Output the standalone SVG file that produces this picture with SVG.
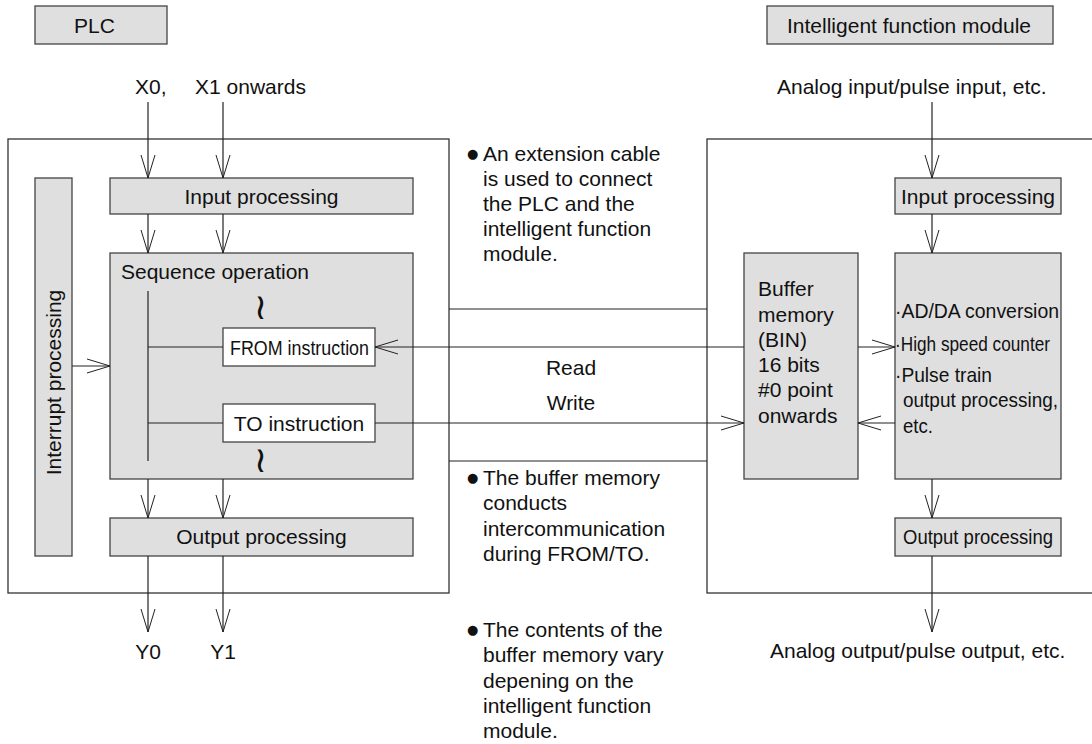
<svg xmlns="http://www.w3.org/2000/svg" width="1092" height="744" viewBox="0 0 1092 744">
<defs>
<style>
text{font-family:"Liberation Sans",Arial,sans-serif;font-size:21px;fill:#111}
.box{fill:#dfdfdf;stroke:#444;stroke-width:1.3}
.wbox{fill:#fff;stroke:#444;stroke-width:1.3}
.outer{fill:none;stroke:#333;stroke-width:1.3}
.ln{fill:none;stroke:#222;stroke-width:1.2}
.arr{fill:none;stroke:#222;stroke-width:1.2;marker-end:url(#ah)}
.mid{text-anchor:middle}
.bul{font-family:"DejaVu Sans",sans-serif;font-size:13px}
.tld{font-family:"DejaVu Sans",sans-serif;font-size:36px;text-anchor:middle}
</style>
<marker id="ah" viewBox="-24 -8 25 16" refX="0" refY="0" markerWidth="25" markerHeight="16" markerUnits="userSpaceOnUse" orient="auto">
<path d="M-23,-7 L0,0 L-23,7" fill="none" stroke="#222" stroke-width="1"/>
</marker>
</defs>
<rect width="1092" height="744" fill="#fff"/>

<g id="plc-title"><rect class="box" x="35" y="6" width="132" height="38"/><text x="74" y="33">PLC</text></g>
<g id="ifm-title"><rect class="box" x="767" y="6" width="286" height="38"/><text x="787" y="33">Intelligent function module</text></g>

<g id="plc-outer"><rect class="outer" x="8" y="139" width="441" height="454"/></g>
<g id="ifm-outer"><rect class="outer" x="707" y="139" width="400" height="454"/></g>

<g id="labels-io">
<text x="135" y="94">X0,</text>
<text x="195" y="94">X1 onwards</text>
<text x="777" y="94">Analog input/pulse input, etc.</text>
<text x="148" y="659" class="mid">Y0</text>
<text x="223" y="659" class="mid">Y1</text>
<text x="770" y="658">Analog output/pulse output, etc.</text>
</g>

<g id="interrupt"><rect class="box" x="35" y="178" width="37" height="378"/><text class="mid" transform="translate(61,382.5) rotate(-90)">Interrupt processing</text></g>
<g id="plc-input"><rect class="box" x="110" y="178" width="303" height="36"/><text x="261.5" y="204" class="mid">Input processing</text></g>
<g id="sequence"><rect class="box" x="110" y="253" width="303" height="226"/><text x="121" y="279">Sequence operation</text>
<text class="tld" x="260.5" y="319">≀</text>
<text class="tld" x="260.5" y="472">≀</text>
</g>
<g id="from-instr"><rect class="wbox" x="223" y="328" width="152" height="38"/><text x="230" y="355" textLength="139" lengthAdjust="spacingAndGlyphs">FROM instruction</text></g>
<g id="to-instr"><rect class="wbox" x="223" y="404" width="152" height="38"/><text x="299" y="430.5" class="mid">TO instruction</text></g>
<g id="plc-output"><rect class="box" x="110" y="518" width="303" height="38"/><text x="261.5" y="544" class="mid">Output processing</text></g>

<g id="ifm-input"><rect class="box" x="895" y="178" width="166" height="36"/><text x="978" y="204" class="mid">Input processing</text></g>
<g id="buffer"><rect class="box" x="744" y="253" width="114" height="226"/>
<text x="758" y="296">Buffer</text>
<text x="758" y="322">memory</text>
<text x="758" y="347">(BIN)</text>
<text x="758" y="372">16 bits</text>
<text x="758" y="397">#0 point</text>
<text x="758" y="423">onwards</text>
</g>
<g id="function"><rect class="box" x="895" y="253" width="166" height="226"/>
<text x="895" y="318" textLength="164" lengthAdjust="spacingAndGlyphs">·AD/DA conversion</text>
<text x="895" y="351" font-size="20" textLength="155" lengthAdjust="spacingAndGlyphs">·High speed counter</text>
<text x="895" y="382" textLength="97" lengthAdjust="spacingAndGlyphs">·Pulse train</text>
<text x="903" y="407" textLength="155" lengthAdjust="spacingAndGlyphs">output processing,</text>
<text x="903" y="433" textLength="30" lengthAdjust="spacingAndGlyphs">etc.</text>
</g>
<g id="ifm-output"><rect class="box" x="895" y="518" width="166" height="38"/><text x="903" y="544" textLength="150" lengthAdjust="spacingAndGlyphs">Output processing</text></g>

<g id="notes">
<text x="467" y="161"><tspan class="bul" dy="-3">●</tspan><tspan x="483" dy="3">An extension cable</tspan></text>
<text x="483" y="186">is used to connect</text>
<text x="483" y="211">the PLC and the</text>
<text x="483" y="236">intelligent function</text>
<text x="483" y="261">module.</text>
<text x="571" y="375" class="mid">Read</text>
<text x="571" y="410" class="mid">Write</text>
<text x="467" y="485"><tspan class="bul" dy="-3">●</tspan><tspan x="483" dy="3">The buffer memory</tspan></text>
<text x="483" y="510">conducts</text>
<text x="483" y="536">intercommunication</text>
<text x="483" y="561">during FROM/TO.</text>
<text x="467" y="637"><tspan class="bul" dy="-3">●</tspan><tspan x="483" dy="3">The contents of the</tspan></text>
<text x="483" y="662">buffer memory vary</text>
<text x="483" y="688">depening on the</text>
<text x="483" y="713">intelligent function</text>
<text x="483" y="738">module.</text>
</g>

<g id="connectors">
<line class="arr" x1="148" y1="102" x2="148" y2="178"/>
<line class="arr" x1="223" y1="102" x2="223" y2="178"/>
<line class="arr" x1="148" y1="214" x2="148" y2="253"/>
<line class="arr" x1="223" y1="214" x2="223" y2="253"/>
<line class="arr" x1="148" y1="479" x2="148" y2="518"/>
<line class="arr" x1="223" y1="479" x2="223" y2="518"/>
<line class="arr" x1="148" y1="556" x2="148" y2="632"/>
<line class="arr" x1="223" y1="556" x2="223" y2="632"/>
<line class="arr" x1="72" y1="366" x2="110" y2="366"/>
<line class="ln" x1="148" y1="291" x2="148" y2="461"/>
<line class="ln" x1="148" y1="347" x2="223" y2="347"/>
<line class="ln" x1="148" y1="423" x2="223" y2="423"/>
<line class="arr" x1="744" y1="347" x2="375" y2="347"/>
<line class="arr" x1="375" y1="423" x2="744" y2="423"/>
<line class="ln" x1="449" y1="309" x2="707" y2="309"/>
<line class="ln" x1="449" y1="461" x2="707" y2="461"/>
<line class="arr" x1="932" y1="102" x2="932" y2="178"/>
<line class="arr" x1="932" y1="214" x2="932" y2="253"/>
<line class="arr" x1="932" y1="479" x2="932" y2="518"/>
<line class="arr" x1="932" y1="556" x2="932" y2="632"/>
<line class="arr" x1="858" y1="347" x2="895" y2="347"/>
<line class="arr" x1="895" y1="423" x2="858" y2="423"/>
</g>
</svg>
